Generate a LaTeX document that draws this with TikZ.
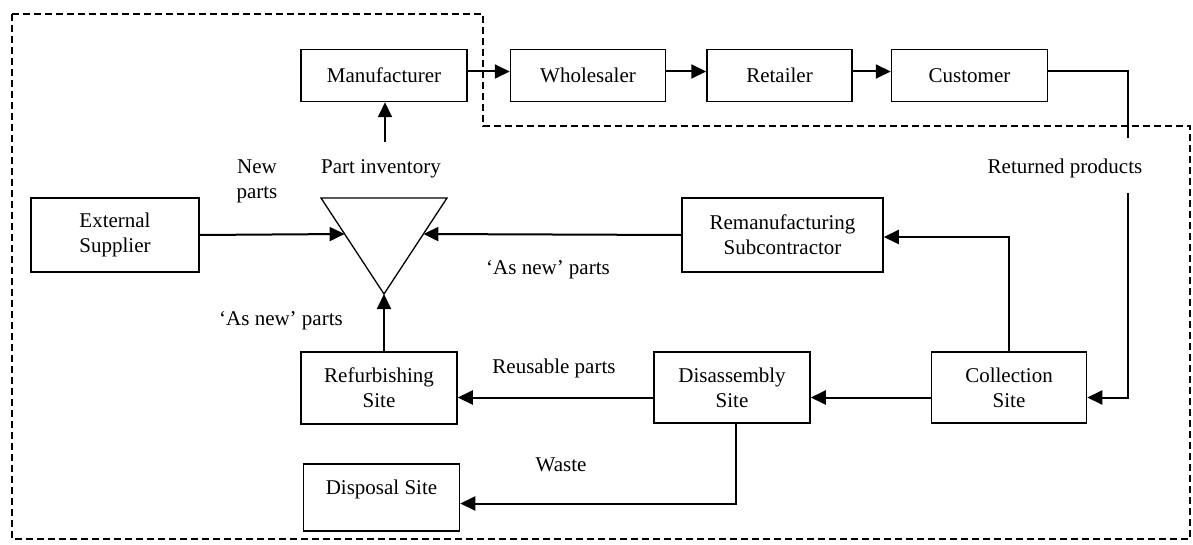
\documentclass[tikz,border=0pt]{standalone}
\usepackage{fontspec}
\setmainfont{Liberation Serif}
\usepackage{tikz}
\usetikzlibrary{positioning,arrows.meta}

\begin{document}
\begin{tikzpicture}[x=1pt, y=-1pt,
    font=\fontsize{21}{25}\selectfont,
    chainbox/.style={rectangle, draw=black, line width=1.5pt, minimum height=52pt, inner sep=0pt},
    sitebox/.style={rectangle, draw=black, line width=1.5pt, align=center, inner sep=0pt},
    flow/.style={->, >={Triangle[length=15pt, width=14pt]}, line width=2pt},
    ]
        \useasboundingbox (0,0) rectangle (1193,545);

        %Frame
        \draw[dash pattern=on 7pt off 4pt, line width=1.3pt]
            (12,14) -- (483,14) -- (483,126) -- (1190,126) -- (1190,539) -- (12,539) -- cycle;

        %Nodes
        \node[chainbox, minimum width=166pt]
            (man) at (384,75.5)     {Manufacturer};
        \node[chainbox, minimum width=155pt]
            (whs) [right=42pt of man] {Wholesaler};
        \node[chainbox, minimum width=145pt]
            (ret) [right=40pt of whs] {Retailer};
        \node[chainbox, minimum width=156pt]
            (cus) [right=38pt of ret] {Customer};
        \node[sitebox, minimum width=168pt, minimum height=74pt]
            (ext) at (115,235)      {External\\Supplier};
        \node[sitebox, minimum width=201pt, minimum height=74pt]
            (rem) at (782.5,235)    {Remanufacturing\\Subcontractor};
        \node[sitebox, minimum width=156pt, minimum height=72pt]
            (ref) at (379,388)      {Refurbishing\\Site};
        \node[sitebox, minimum width=156pt, minimum height=71pt]
            (dis) at (732,387.5)    {Disassembly\\Site};
        \node[sitebox, minimum width=155pt, minimum height=71pt]
            (col) at (1009,387.5)   {Collection\\Site};
        \node[sitebox, minimum width=156pt, minimum height=67pt, text depth=20pt]
            (dsp) at (381.5,497.5)  {Disposal Site};

        %Part inventory
        \coordinate (inv-l) at (321,198);
        \coordinate (inv-r) at (447,198);
        \coordinate (inv-b) at (384,294);
        \coordinate (inv-w) at (344.6,234);
        \coordinate (inv-e) at (423.4,234);
        \coordinate (inv-t) at (385,142);
        \draw[line width=1.3pt, line join=miter] (inv-l) -- (inv-r) -- (inv-b) -- cycle;

        %Labels
        \node[align=center] (lnew) at (257,181) {New\\parts};
        \node (linv) at (381,169)  {Part inventory};
        \node (lasl) at (281,321)  {‘As new’ parts};
        \node (lasr) at (548,270)  {‘As new’ parts};
        \node (lreu) at (554,368)  {Reusable parts};
        \node (lwst) at (561,465)  {Waste};
        \node (lret) at (1065,168) {Returned products};
        \coordinate (ret-a) at (1128,138);
        \coordinate (ret-b) at (1128,193);

        %Lines
        \draw[flow] ([yshift=4pt]man.east) -- ([yshift=4pt]whs.west);
        \draw[flow] ([yshift=4pt]whs.east) -- ([yshift=4pt]ret.west);
        \draw[flow] ([yshift=4pt]ret.east) -- ([yshift=4pt]cus.west);
        \draw[line width=2pt] ([yshift=4pt]cus.east) -| (ret-a);
        \draw[flow] (ret-b) |- ([yshift=-10pt]col.east);
        \draw[flow] (inv-t) -- (inv-t |- man.south);
        \draw[flow] (ext.east) -- (inv-w);
        \draw[flow] (rem.west) -- (inv-e);
        \draw[flow] (ref.north -| inv-b) -- (inv-b);
        \draw[flow] (col.north) |- ([yshift=-2pt]rem.east);
        \draw[flow] ([yshift=-10pt]col.west) -- ([yshift=-10pt]dis.east);
        \draw[flow] ([yshift=-10pt]dis.west) -- ([yshift=-10pt]dis.west -| ref.east);
        \draw[flow] ([xshift=4pt]dis.south) |- ([yshift=-6pt]dsp.east);
    \end{tikzpicture}
\end{document}
